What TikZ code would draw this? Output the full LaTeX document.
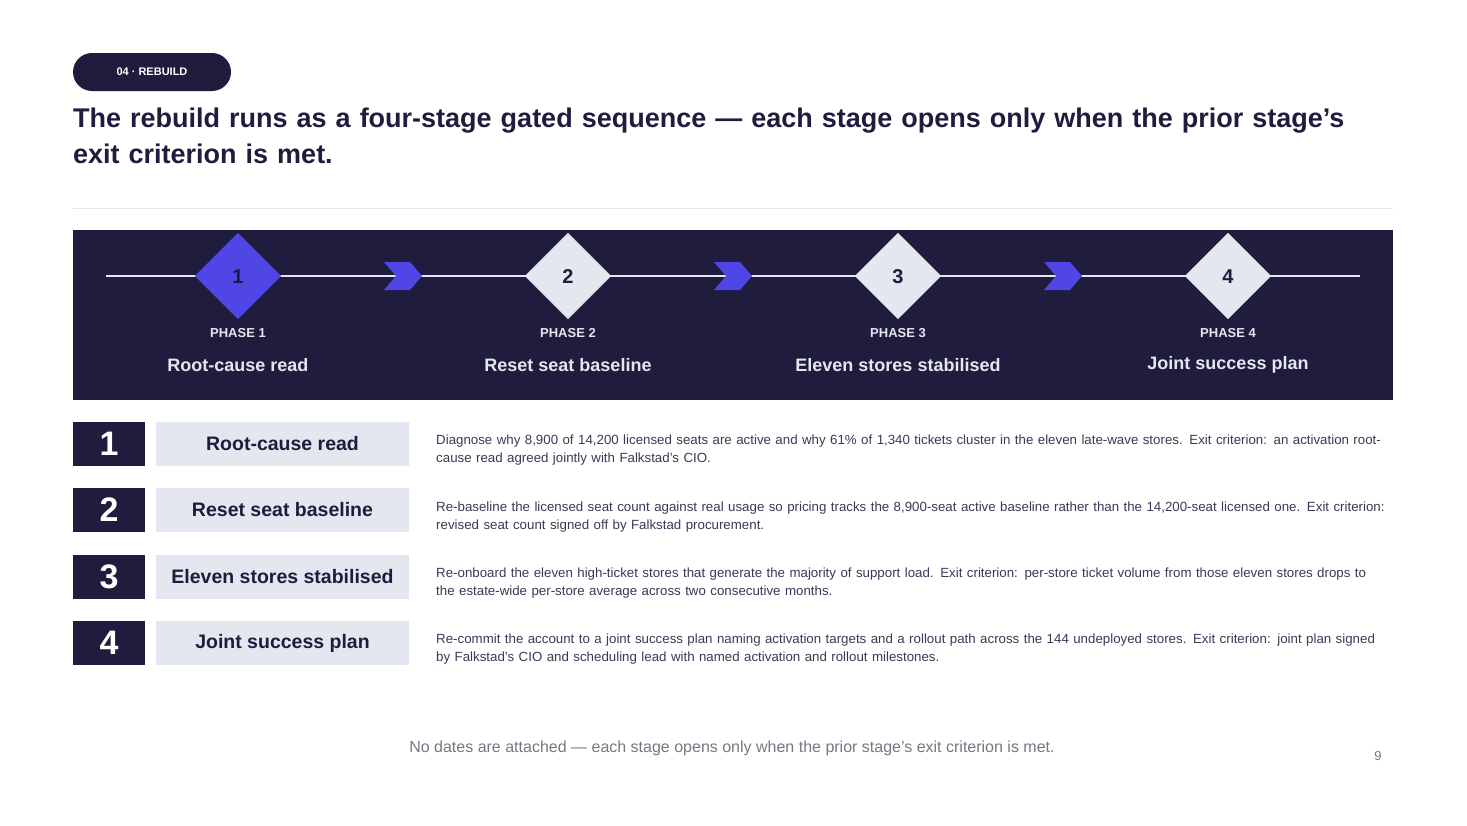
\documentclass[tikz,border=0pt]{standalone}
\usepackage{fontspec}
\setmainfont{Liberation Sans}
\begin{document}
\definecolor{navy}{HTML}{1F1C3D}
\definecolor{violet}{HTML}{4F46E5}
\definecolor{pale}{HTML}{E4E6F0}
\definecolor{body}{HTML}{3A3A55}
\definecolor{grayt}{HTML}{777785}
\begin{tikzpicture}[x=1pt,y=-1pt,
  dia/.style={shape=rectangle,draw=none,minimum size=61pt,rotate=45,inner sep=0pt},
  num/.style={font=\fontsize{20}{24}\selectfont\bfseries,text=navy},
  ph/.style={font=\fontsize{13}{15}\selectfont\bfseries,text=pale},
  pn/.style={font=\fontsize{18}{21}\selectfont\bfseries,text=pale},
  nbox/.style={fill=navy,minimum width=72pt,minimum height=44pt,inner sep=0pt,text=white,font=\fontsize{34}{36}\selectfont\bfseries},
  lbox/.style={fill=pale,minimum width=253pt,minimum height=44pt,inner sep=0pt,text=navy,font=\fontsize{19.5}{22}\selectfont\bfseries},
  desc/.style={anchor=north west,text width=950pt,align=left,inner sep=0pt,text=body,font=\fontsize{13.3}{18}\selectfont},
  chev/.style={fill=violet}]
\useasboundingbox (0,0) rectangle (1467,825);
\fill[white] (0,0) rectangle (1467,825);
\node[fill=navy,rounded corners=19pt,minimum width=158pt,minimum height=38pt,inner sep=0pt,text=white,font=\fontsize{11}{13}\selectfont\bfseries] (tag) at (152,72) {04 · REBUILD};
\node[anchor=north west,inner sep=0pt,text width=1320pt,align=left,text=navy,font=\fontsize{27}{36}\selectfont\bfseries] (title) at (73,108) {The rebuild runs as a four-stage gated sequence — each stage opens only when the prior stage's exit criterion is met.};
\coordinate (s1) at (73,208); \coordinate (s2) at (1393,208);
\draw[pale,line width=1pt] (s1) -- (s2);
\fill[navy] (73,230) rectangle (1393,400);
\coordinate (l1) at (106,276); \coordinate (l2) at (1360,276);
\draw[pale,line width=2pt] (l1) -- (l2);
\foreach \cx in {384,714,1044}{
  \fill[chev] (\cx,262) -- (\cx+26,262) -- (\cx+38,276) -- (\cx+26,290) -- (\cx,290) -- (\cx+12,276) -- cycle;}
\node[dia,fill=violet] (d1) at (238,276) {};
\node[dia,fill=pale] (d2) at (568,276) {};
\node[dia,fill=pale] (d3) at (898,276) {};
\node[dia,fill=pale] (d4) at (1228,276) {};
\foreach \i/\x/\n in {1/238/Root-cause read,2/568/Reset seat baseline,3/898/Eleven stores stabilised,4/1228/Joint success plan}{
  \node[num] (n\i) at (\x,277) {\i};
  \node[ph] (p\i) at (\x,333) {PHASE \i};
  \node[pn] (q\i) at (\x,365) {\n};}
\foreach \i/\y/\n in {1/444/Root-cause read,2/510/Reset seat baseline,3/577/Eleven stores stabilised,4/643/Joint success plan}{
  \node[nbox] (b\i) at (109,\y) {\i};
  \node[lbox] (c\i) at (282.5,\y) {\n};}
\node[desc] (t1) at (436,435) {Diagnose why 8,900 of 14,200 licensed seats are active and why 61\% of 1,340 tickets cluster in the eleven late-wave stores. Exit criterion: an activation root-cause read agreed jointly with Falkstad's CIO.};
\node[desc] (t2) at (436,502) {Re-baseline the licensed seat count against real usage so pricing tracks the 8,900-seat active baseline rather than the 14,200-seat licensed one. Exit criterion: revised seat count signed off by Falkstad procurement.};
\node[desc] (t3) at (436,568) {Re-onboard the eleven high-ticket stores that generate the majority of support load. Exit criterion: per-store ticket volume from those eleven stores drops to the estate-wide per-store average across two consecutive months.};
\node[desc] (t4) at (436,634) {Re-commit the account to a joint success plan naming activation targets and a rollout path across the 144 undeployed stores. Exit criterion: joint plan signed by Falkstad's CIO and scheduling lead with named activation and rollout milestones.};
\node[text=grayt,font=\fontsize{16}{19}\selectfont] (foot) at (732,748) {No dates are attached — each stage opens only when the prior stage's exit criterion is met.};
\node[text=grayt,font=\fontsize{13}{15}\selectfont] (pg) at (1378,756) {9};
\end{tikzpicture}
\end{document}
